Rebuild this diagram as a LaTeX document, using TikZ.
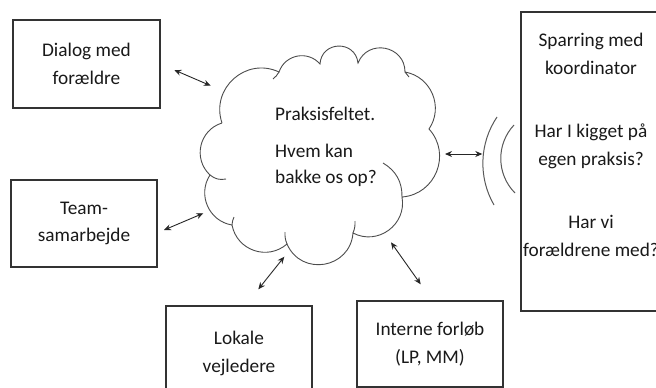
\documentclass[tikz,border=0pt]{standalone}
\usepackage{fontspec}
\setmainfont{Carlito}
\usetikzlibrary{arrows.meta}
\begin{document}
\begin{tikzpicture}[x=1pt,y=-1pt,
  box/.style={draw=black!80, line width=1.1pt, inner sep=0pt, align=center, text=black!90, font=\fontsize{19.3}{27.5}\selectfont},
  txt/.style={inner sep=0pt, align=center, text=black!90, font=\fontsize{19.3}{27.5}\selectfont},
  link/.style={line width=0.9pt, black!85, {Stealth[length=7pt,width=6pt]}-{Stealth[length=7pt,width=6pt]}},
  cloudline/.style={line width=0.9pt, draw=black!70},
  arcline/.style={line width=1pt, draw=black!65},
]
\useasboundingbox (0,0) rectangle (656,388);
\clip (0,0) rectangle (656,388);

% boxes
\node[box, minimum width=147pt, minimum height=88pt] (dialog) at (86.5,64) {Dialog med\\forældre};
\node[box, minimum width=146pt, minimum height=87pt] (team) at (84,223.5) {Team-\\samarbejde};
\node[box, minimum width=146pt, minimum height=95pt] (lokale) at (239,353.5) {Lokale\\vejledere};
\node[box, minimum width=146pt, minimum height=86pt] (interne) at (430,344) {Interne forløb\\(LP, MM)};
\node[box, minimum width=142pt, minimum height=299pt] (sparbox) at (592,161.5) {};
\node[txt] (spartext) at (591,144.7) {Sparring med\\koordinator\\[36pt]Har I kigget på\\egen praksis?\\[36pt]Har vi\\forældrene med?};

% cloud
\coordinate (v1) at (222,123);
\coordinate (v2) at (279,72);
\coordinate (v3) at (320,64);
\coordinate (v4) at (358,63);
\coordinate (v5) at (405,72);
\coordinate (v6) at (429,129);
\coordinate (v7) at (402,197);
\coordinate (v8) at (353,233);
\coordinate (v9) at (287,244);
\coordinate (v10) at (232,225);
\coordinate (v11) at (210,175);
\draw[cloudline]
  (v1) to[bend left=67, looseness=1.22] (v2)
       to[bend left=60, looseness=1.14] (v3)
       to[bend left=85, looseness=1.57] (v4)
       to[bend left=79, looseness=1.42] (v5)
       to[bend left=57, looseness=1.10] (v6)
       to[bend left=64, looseness=1.18] (v7)
       to[bend left=64, looseness=1.18] (v8)
       to[bend left=76, looseness=1.37] (v9)
       to[bend left=60, looseness=1.14] (v10)
       to[bend left=57, looseness=1.10] (v11)
       to[bend left=60, looseness=1.14] (v1);
% inner hooks
\coordinate (h2) at (273,79);
\coordinate (h5) at (409,77);
\coordinate (h7) at (383,163);
\coordinate (h8) at (355,221);
\coordinate (h9) at (285,232);
\coordinate (h10) at (234,217);
\coordinate (h11) at (226,179);
\draw[cloudline] (v2) to[bend left=10] (h2);
\draw[cloudline] (v5) to[bend right=10] (h5);
\draw[cloudline] (v7) to[bend right=30] (h7);
\draw[cloudline] (v8) to[bend right=12] (h8);
\draw[cloudline] (v9) to[bend left=12] (h9);
\draw[cloudline] (v10) to[bend left=10] (h10);
\draw[cloudline] (v11) to[bend right=25] (h11);

\node[txt, align=left, anchor=west, font=\fontsize{19.3}{26.5}\selectfont] (cloudtext) at (275,147) {Praksisfeltet.\\[10.5pt]Hvem kan\\bakke os op?};

% signal arcs
\coordinate (o1) at (497,117);
\coordinate (o2) at (494,205);
\coordinate (i1) at (514,125);
\coordinate (i2) at (515,193);
\draw[arcline] (o1) to[bend right=32, looseness=0.92] (o2);
\draw[arcline] (i1) to[bend right=44, looseness=0.99] (i2);

% arrows
\coordinate (a1s) at (174.3,70);   \coordinate (a1e) at (210.7,85.7);
\coordinate (a2s) at (164,230);    \coordinate (a2e) at (203.3,213.3);
\coordinate (a3s) at (258.3,289.3);\coordinate (a3e) at (284.3,256.7);
\coordinate (a4s) at (391,242.3);  \coordinate (a4e) at (420.7,284.3);
\coordinate (a5s) at (445,154);    \coordinate (a5e) at (482.3,154);
\draw[link] (a1s) -- (a1e);
\draw[link] (a2s) -- (a2e);
\draw[link] (a3s) -- (a3e);
\draw[link] (a4s) -- (a4e);
\draw[link] (a5s) -- (a5e);
\end{tikzpicture}
\end{document}
